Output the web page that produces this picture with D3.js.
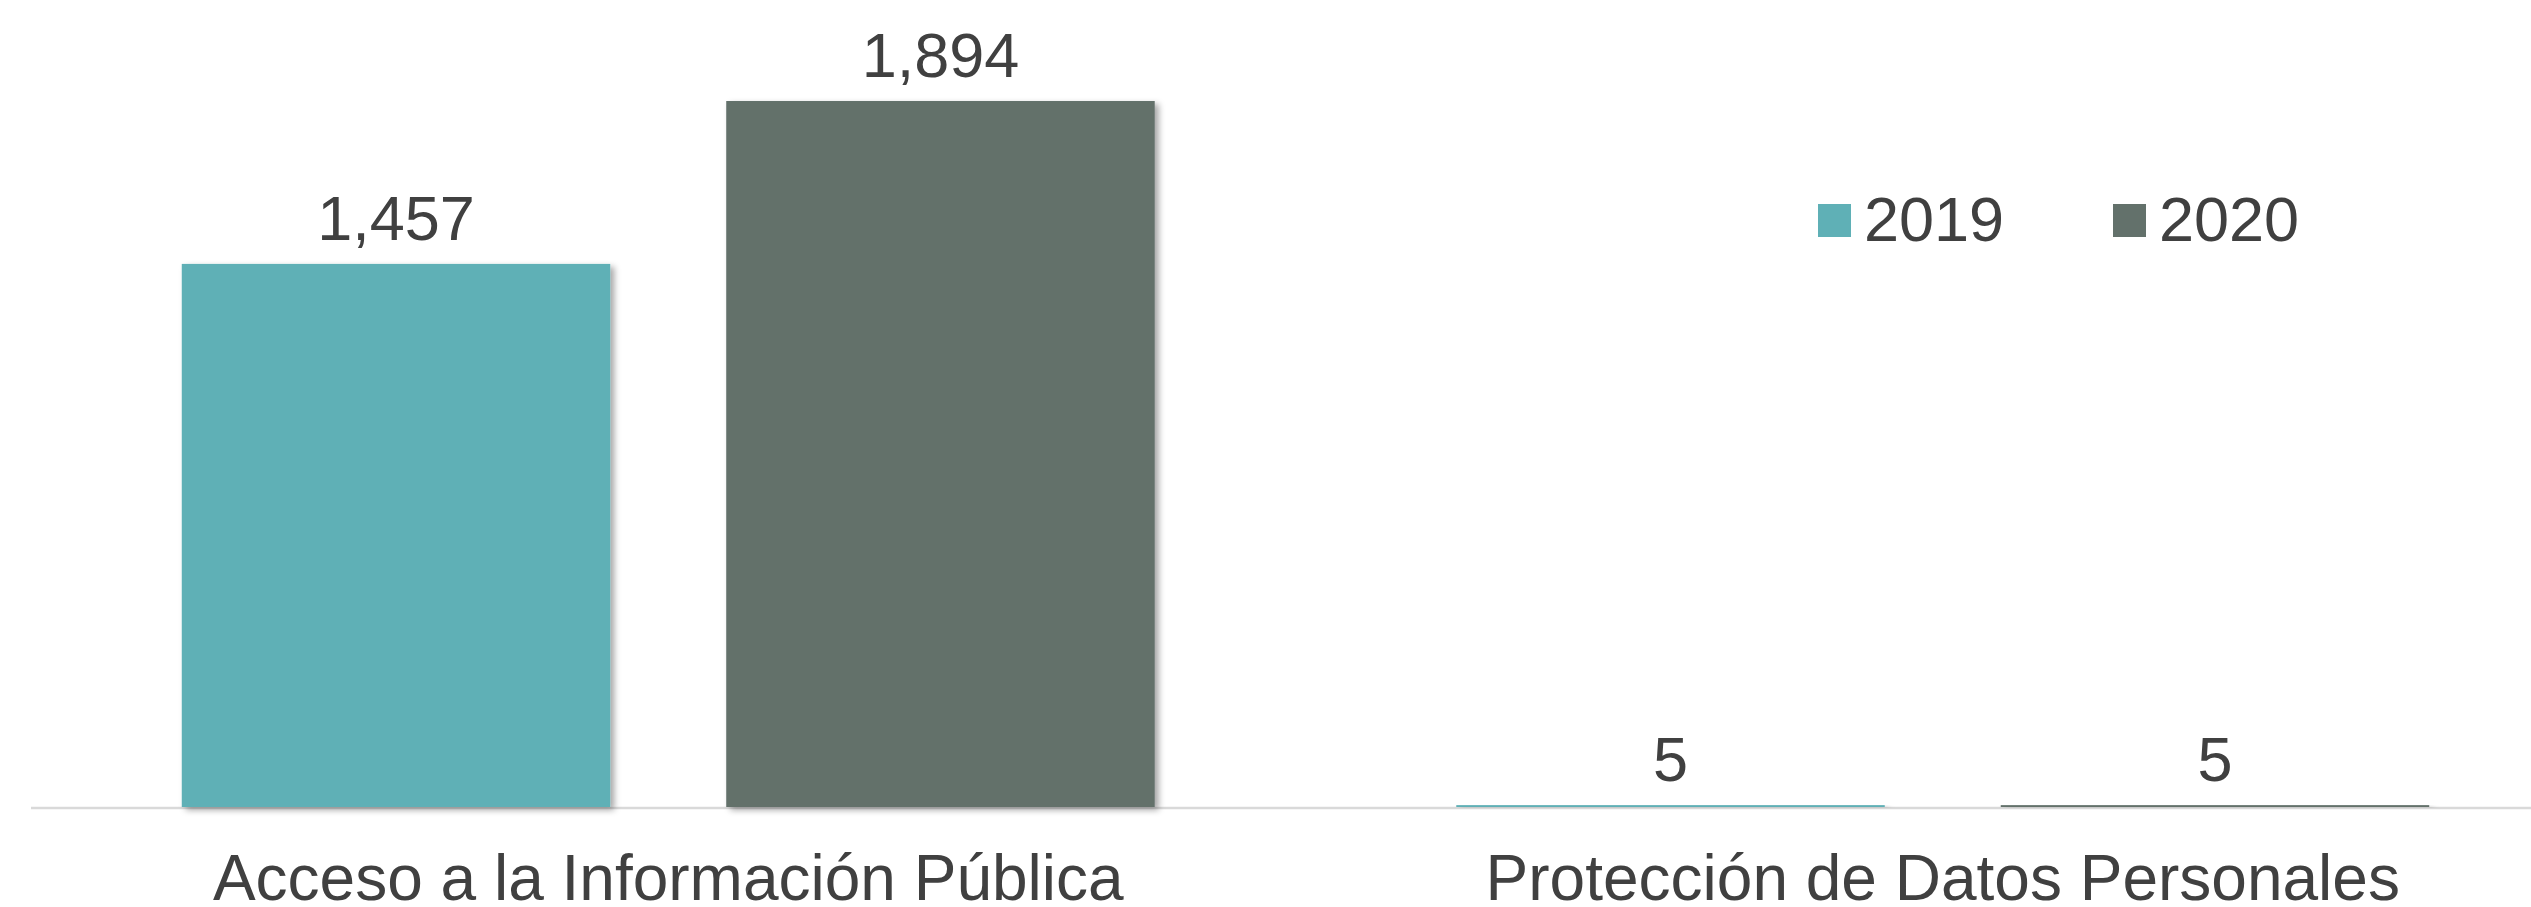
<!DOCTYPE HTML>
<html>
<head>
	<meta charset="utf-8">
	<style>
		body {
			margin: 0;
			background: #ffffff;
		}
		text {
			font-family: "Liberation Sans", Arial, sans-serif;
			fill: #404040;
		}
		.label {
			text-anchor: middle;
			font-size: 63px;
		}
		.cat {
			text-anchor: middle;
			font-size: 64px;
		}
		.legend text {
			font-size: 63px;
		}
	</style>
	<script type="text/javascript" src="https://cdn.jsdelivr.net/npm/d3@7/dist/d3.min.js"></script>
</head>
<body>
<script>
	var categories = ["Acceso a la Información Pública", "Protección de Datos Personales"];
	var years = ["2019", "2020"];
	var values2019 = [1457, 5];
	var values2020 = [1894, 5];
	var colors = ["#5FB0B6", "#63716B"];

	var width = 2531;
	var height = 907;
	var baseline = 807;

	var data = categories.map(function(c, i) {
		return {cat: c, vals: [
			{year: years[0], value: values2019[i]},
			{year: years[1], value: values2020[i]}
		]};
	});

	var x0 = d3.scaleBand()
		.domain(categories)
		.range([31, 2580])
		.paddingInner(0.2366)
		.paddingOuter(0.1183);
	var x1 = d3.scaleBand()
		.domain(years)
		.range([0, x0.bandwidth()])
		.paddingInner(0.213)
		.paddingOuter(0);
	var y = d3.scaleLinear()
		.domain([0, 2000])
		.range([baseline, baseline - 745.5]);
	var z = d3.scaleOrdinal().domain(years).range(colors);

	var svg = d3.select("body").append("svg")
		.attr("width", width)
		.attr("height", height);

	var defs = svg.append("defs");
	var shadow = defs.append("filter")
		.attr("id", "shadow")
		.attr("x", "-5%").attr("y", "-5%")
		.attr("width", "115%").attr("height", "115%");
	shadow.append("feDropShadow")
		.attr("dx", 4)
		.attr("dy", 3)
		.attr("stdDeviation", 3)
		.attr("flood-color", "#000")
		.attr("flood-opacity", 0.35);

	// axis line
	svg.append("line")
		.attr("x1", 31)
		.attr("x2", width)
		.attr("y1", baseline + 1)
		.attr("y2", baseline + 1)
		.attr("stroke", "#D9D9D9")
		.attr("stroke-width", 2.5);

	var group = svg.selectAll(".group")
		.data(data)
		.enter().append("g")
		.attr("class", "group")
		.attr("transform", function(d) { return "translate(" + x0(d.cat) + ",0)"; });

	group.selectAll("rect")
		.data(function(d) { return d.vals; })
		.enter().append("rect")
		.attr("x", function(d) { return x1(d.year); })
		.attr("y", function(d) { return y(d.value); })
		.attr("width", x1.bandwidth())
		.attr("height", function(d) { return baseline - y(d.value); })
		.attr("fill", function(d) { return z(d.year); })
		.attr("filter", "url(#shadow)");

	group.selectAll(".label")
		.data(function(d) { return d.vals; })
		.enter().append("text")
		.attr("class", "label")
		.attr("x", function(d) { return x1(d.year) + x1.bandwidth() / 2; })
		.attr("y", function(d) { return y(d.value) - 24; })
		.text(function(d) { return d3.format(",")(d.value); });

	svg.selectAll(".cat")
		.data(categories)
		.enter().append("text")
		.attr("class", "cat")
		.attr("x", function(d) { return x0(d) + x0.bandwidth() / 2; })
		.attr("y", 900)
		.text(function(d) { return d; });

	// legend
	var legendX = [1818, 2113];
	var legend = svg.append("g").attr("class", "legend")
		.selectAll("g")
		.data(years)
		.enter().append("g")
		.attr("transform", function(d, i) { return "translate(" + legendX[i] + ",0)"; });
	legend.append("rect")
		.attr("x", 0)
		.attr("y", 204)
		.attr("width", 33)
		.attr("height", 33)
		.attr("fill", function(d) { return z(d); });
	legend.append("text")
		.attr("x", 46)
		.attr("y", 241)
		.text(function(d) { return d; });
</script>
</body>
</html>
